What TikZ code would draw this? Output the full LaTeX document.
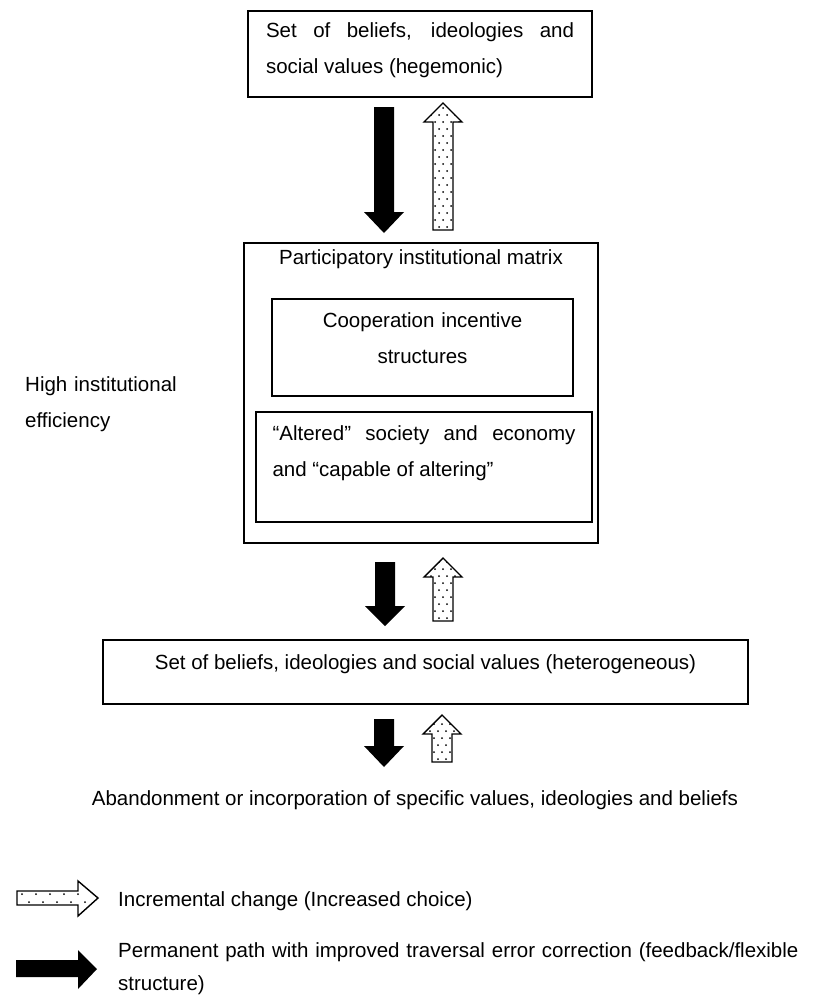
\documentclass[tikz,border=0pt]{standalone}
\usepackage{fontspec}
\setmainfont{Liberation Sans}

% block arrows: x, start, head base, tip
\newcommand\blkdown[4]{\fill (#1-10,#2) -- (#1+10,#2) -- (#1+10,#3) -- (#1+20,#3) -- (#1,#4) -- (#1-20,#3) -- (#1-10,#3) -- cycle;}
\newcommand\dotup[4]{%
  \begin{scope}
    \clip (#1-10,#2) -- (#1+10,#2) -- (#1+10,#3) -- (#1+19,#3) -- (#1,#4) -- (#1-19,#3) -- (#1-10,#3) -- cycle;
    \foreach \yy in {0,14,...,154}
      \foreach \xx in {-12,-4,4,12}
        {\fill (#1+\xx,#2-3-\yy) circle (1pt); \fill (#1+\xx+4,#2-10-\yy) circle (1pt);}
  \end{scope}
  \draw[line width=1.4pt] (#1-10,#2) -- (#1+10,#2) -- (#1+10,#3) -- (#1+19,#3) -- (#1,#4) -- (#1-19,#3) -- (#1-10,#3) -- cycle;}

\begin{document}
\begin{tikzpicture}[x=1pt, y=-1pt,
    font=\fontsize{20.5}{36}\selectfont,
    box/.style={draw, line width=1.2pt, inner sep=0pt}]
  \useasboundingbox (0,0) rectangle (826,999);

  \node[box, text width=308pt, inner xsep=18pt, text height=26pt, text depth=60pt, align=justify]
    (hegem) at (420,54) {Set of beliefs, ideologies and\linebreak social values (hegemonic)};
  \node[box, minimum width=354pt, text height=21pt, text depth=279pt]
    (instmat) at (421,393) {Participatory institutional matrix};
  \node[box, text width=301pt, align=center, text height=28pt, text depth=69pt]
    (coop) at (422.5,347.5) {Cooperation incentive\\structures};
  \node[box, text width=303pt, inner xsep=16.5pt, align=justify, text height=28pt, text depth=82pt]
    (alter) at (424,467) {``Altered'' society and economy\linebreak and ``capable of altering''};
  \node[box, minimum width=645pt, text height=29pt, text depth=35pt]
    (heter) at (425.5,672) {Set of beliefs, ideologies and social values (heterogeneous)};
  \node[anchor=north west, inner sep=0pt, text width=200pt, align=left, text height=15pt]
    (effic) at (25,376) {High institutional\\efficiency};
  \node[anchor=base, inner sep=0pt]
    (aband) at (415,805) {Abandonment or incorporation of specific values, ideologies and beliefs};

  \blkdown{384}{107}{212}{233}
  \dotup{443}{230}{122}{103}
  \blkdown{385}{562}{606}{626}
  \dotup{443}{621}{577}{558}
  \blkdown{384}{719}{746}{767}
  \dotup{442}{762}{734}{715}

  % legend
  \begin{scope}
    \clip (17,891) -- (78,891) -- (78,881) -- (98,898) -- (78,916) -- (78,905) -- (17,905) -- cycle;
    \foreach \xx in {22,36,...,78}
      {\fill (\xx,894) circle (1pt); \fill (\xx+7,902) circle (1pt);}
  \end{scope}
  \draw[line width=1.4pt] (17,891) -- (78,891) -- (78,881) -- (98,898) -- (78,916) -- (78,905) -- (17,905) -- cycle;
  \fill (16,960) -- (78,960) -- (78,950) -- (97,969) -- (78,989) -- (78,977) -- (16,977) -- cycle;

  \node[anchor=base west, inner sep=0pt]
    (incr) at (118,906) {Incremental change (Increased choice)};
  \node[anchor=north west, inner sep=0pt, text width=700pt, align=left, text height=15pt]
    (perm) at (118,942) {Permanent path with improved traversal error correction (feedback/flexible\\[-3pt]structure)};
\end{tikzpicture}
\end{document}
